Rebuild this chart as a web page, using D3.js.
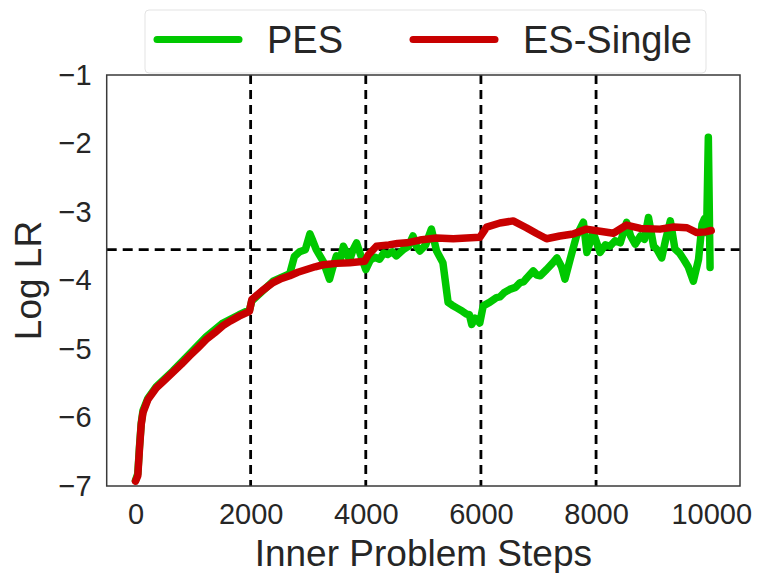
<!DOCTYPE html>
<html>
<head>
<meta charset="utf-8">
<script src="https://cdn.jsdelivr.net/npm/d3@7"></script>
<style>
  body { margin: 0; background: #fff; }
  text { font-family: "Liberation Sans", Arial, sans-serif; fill: #262626; }
</style>
</head>
<body>
<div class="chart"></div>
<script>
// data (step, log lr)
const esSteps = [0, 40, 70, 100, 130, 215, 360, 500, 650, 800, 940, 1100, 1230, 1380, 1520, 1650, 1800, 1980, 2020, 2200, 2390, 2540, 2680, 2820, 2970, 3120, 3260, 3500, 3720, 3980, 4050, 4185, 4400, 4550, 4710, 4940, 5230, 5520, 5750, 5980, 6100, 6330, 6560, 6790, 6960, 7140, 7370, 7600, 7830, 8070, 8300, 8530, 8770, 9110, 9350, 9580, 9750, 9900, 10000];
const esValues = [-6.93, -6.85, -6.45, -6.1, -5.93, -5.74, -5.57, -5.46, -5.34, -5.22, -5.1, -4.97, -4.86, -4.76, -4.66, -4.59, -4.52, -4.45, -4.28, -4.15, -4.03, -3.97, -3.93, -3.88, -3.84, -3.8, -3.77, -3.75, -3.74, -3.72, -3.62, -3.5, -3.48, -3.46, -3.45, -3.41, -3.38, -3.39, -3.38, -3.37, -3.22, -3.16, -3.13, -3.23, -3.31, -3.39, -3.35, -3.32, -3.25, -3.28, -3.31, -3.19, -3.24, -3.25, -3.22, -3.23, -3.3, -3.29, -3.27];

const pesSteps = [0, 40, 70, 100, 130, 215, 360, 650, 940, 1230, 1520, 1800, 1980, 2020, 2390, 2680, 2760, 2850, 2950, 3030, 3080, 3140, 3260, 3370, 3430, 3490, 3550, 3610, 3680, 3720, 3780, 3840, 3900, 4000, 4080, 4160, 4240, 4310, 4380, 4460, 4530, 4650, 4740, 4820, 4880, 4940, 5040, 5140, 5230, 5340, 5430, 5500, 5580, 5680, 5750, 5800, 5840, 5900, 5960, 5980, 6040, 6150, 6270, 6330, 6400, 6500, 6600, 6680, 6740, 6800, 6910, 6970, 7030, 7140, 7240, 7320, 7400, 7460, 7550, 7660, 7780, 7840, 7950, 8070, 8160, 8240, 8330, 8420, 8530, 8600, 8680, 8770, 8840, 8910, 9000, 9060, 9140, 9210, 9290, 9370, 9450, 9520, 9600, 9690, 9780, 9840, 9880, 9920, 9950, 9980];
const pesValues = [-6.92, -6.82, -6.42, -6.08, -5.9, -5.72, -5.55, -5.32, -5.07, -4.82, -4.62, -4.5, -4.43, -4.3, -4.01, -3.9, -3.65, -3.58, -3.55, -3.32, -3.42, -3.55, -3.72, -3.98, -3.8, -3.64, -3.72, -3.5, -3.62, -3.7, -3.55, -3.45, -3.6, -3.84, -3.7, -3.66, -3.69, -3.6, -3.62, -3.58, -3.64, -3.55, -3.5, -3.35, -3.5, -3.57, -3.48, -3.25, -3.57, -3.74, -4.32, -4.36, -4.4, -4.45, -4.49, -4.5, -4.64, -4.55, -4.6, -4.62, -4.37, -4.32, -4.25, -4.24, -4.18, -4.13, -4.1, -4.03, -4.02, -3.96, -3.86, -3.92, -3.93, -3.84, -3.75, -3.67, -3.8, -3.98, -3.69, -3.35, -3.15, -3.59, -3.3, -3.59, -3.48, -3.5, -3.42, -3.45, -3.15, -3.35, -3.47, -3.35, -3.4, -3.08, -3.5, -3.55, -3.67, -3.4, -3.13, -3.54, -3.6, -3.69, -3.8, -4.01, -3.69, -3.18, -3.1, -3.3, -1.91, -3.81];

const xTicks = [0, 2000, 4000, 6000, 8000, 10000];
const yTicks = [-7, -6, -5, -4, -3, -2, -1];
const vLines = [2000, 4000, 6000, 8000];
const hLine = -3.55;

const seriesNames = ["PES", "ES-Single"];
const seriesColors = ["#00c800", "#c80000"];

// svg container
const width = 762, height = 573;
const plotLeft = 106.7, plotRight = 740, plotTop = 75, plotBottom = 486;

const svg = d3.select(".chart")
  .append("svg")
  .attr("width", width)
  .attr("height", height);

svg.append("rect").attr("width", width).attr("height", height).attr("fill", "#fff");

const x = d3.scaleLinear().domain([-500, 10500]).range([plotLeft, plotRight]);
const y = d3.scaleLinear().domain([-7, -1]).range([plotBottom, plotTop]);

// reference lines
svg.selectAll("line.v")
  .data(vLines)
  .enter()
  .append("line")
  .attr("x1", d => x(d)).attr("x2", d => x(d))
  .attr("y1", plotTop).attr("y2", plotBottom)
  .attr("stroke", "#000")
  .attr("stroke-width", 2.8)
  .attr("stroke-dasharray", "9,6");

svg.append("line")
  .attr("x1", plotLeft).attr("x2", plotRight)
  .attr("y1", y(hLine)).attr("y2", y(hLine))
  .attr("stroke", "#000")
  .attr("stroke-width", 2.8)
  .attr("stroke-dasharray", "10,6");

// series
const line = d3.line().x(d => x(d[0])).y(d => y(d[1]));
const series = [
  d3.zip(pesSteps, pesValues),
  d3.zip(esSteps, esValues)
];

svg.append("g")
  .selectAll("path")
  .data(series)
  .enter()
  .append("path")
  .attr("d", line)
  .attr("fill", "none")
  .attr("stroke", (d, i) => seriesColors[i])
  .attr("stroke-width", 7.5)
  .attr("stroke-linejoin", "round")
  .attr("stroke-linecap", "round");

// frame
svg.append("rect")
  .attr("x", plotLeft).attr("y", plotTop)
  .attr("width", plotRight - plotLeft).attr("height", plotBottom - plotTop)
  .attr("fill", "none")
  .attr("stroke", "#3a3a3a")
  .attr("stroke-width", 1.5);

// axes
const xAxis = svg.append("g")
  .attr("transform", `translate(0,${plotBottom})`)
  .call(d3.axisBottom(x).tickValues(xTicks).tickSize(0).tickPadding(17).tickFormat(d3.format("d")));
const yAxis = svg.append("g")
  .attr("transform", `translate(${plotLeft},0)`)
  .call(d3.axisLeft(y).tickValues(yTicks).tickSize(0).tickPadding(15).tickFormat(d3.format("d")));

[xAxis, yAxis].forEach(g => {
  g.select(".domain").remove();
  g.attr("font-family", null).attr("font-size", null);
  g.selectAll("text").style("font-size", "29px").attr("fill", "#262626");
});

// axis titles
svg.append("text")
  .attr("x", (plotLeft + plotRight) / 2)
  .attr("y", 566)
  .attr("text-anchor", "middle")
  .style("font-size", "37px")
  .text("Inner Problem Steps");

svg.append("text")
  .attr("transform", `translate(41,${(plotTop + plotBottom) / 2}) rotate(-90)`)
  .attr("text-anchor", "middle")
  .style("font-size", "37px")
  .text("Log LR");

// legend
const legend = svg.append("g");
legend.append("rect")
  .attr("x", 145).attr("y", 10)
  .attr("width", 561).attr("height", 63)
  .attr("rx", 4)
  .attr("fill", "#fff")
  .attr("fill-opacity", 0.85)
  .attr("stroke", "#e3e3e3")
  .attr("stroke-width", 1);

const legendX = [157, 413];
seriesNames.forEach((name, i) => {
  legend.append("line")
    .attr("x1", legendX[i]).attr("x2", legendX[i] + 82)
    .attr("y1", 39.5).attr("y2", 39.5)
    .attr("stroke", seriesColors[i])
    .attr("stroke-width", 7)
    .attr("stroke-linecap", "round");
  legend.append("text")
    .attr("x", legendX[i] + 110)
    .attr("y", 53)
    .style("font-size", "38px")
    .text(name);
});
</script>
</body>
</html>
